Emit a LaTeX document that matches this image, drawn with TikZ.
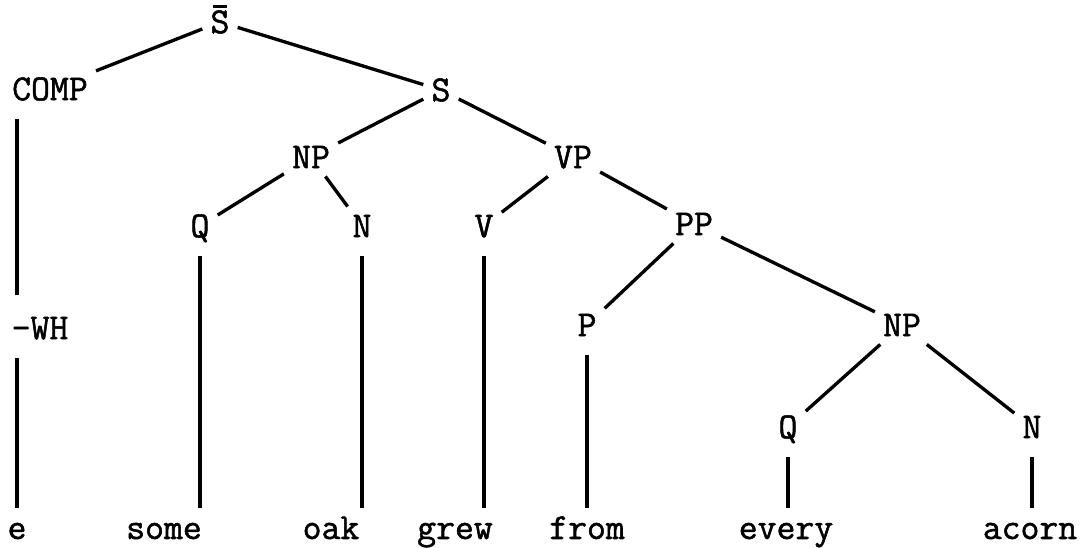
\documentclass[tikz,border=0pt]{standalone}
\usepackage{fontspec}
\newfontfamily\twfont[FakeBold=1.4]{Latin Modern Mono}
\newcommand{\macronS}{\makebox[0pt][l]{\hspace{0.08em}\raisebox{0.70em}{\rule{0.36em}{0.07em}}}S}
\begin{document}
\begin{tikzpicture}[x=0.75pt,y=-0.75pt,
  lab/.style={font=\fontsize{27.5pt}{30pt}\selectfont\twfont, inner sep=6pt, text height=16.8pt, text depth=0pt},
  word/.style={lab, anchor=base},
  edge/.style={line width=2.5pt},
  vline/.style={edge, shorten <=8pt}]
\useasboundingbox (0,0) rectangle (1083,548);
% category labels
\node[lab] (Sb)   at (220,22)  {\macronS};
\node[lab] (COMP) at (50,89)   {COMP};
\node[lab] (S)    at (441,90)  {S};
\node[lab] (NPa)  at (311,157) {NP};
\node[lab] (VP)   at (573,157) {VP};
\node[lab] (Qa)   at (200,226) {Q};
\node[lab] (Na)   at (362,226) {N};
\node[lab] (V)    at (484,226) {V};
\node[lab] (PP)   at (694,224) {PP};
\node[lab] (WH)   at (40,328)  {-WH};
\node[lab] (P)    at (587,325) {P};
\node[lab] (NPb)  at (902,325) {NP};
\node[lab] (Qb)   at (788,427) {Q};
\node[lab] (Nb)   at (1032,427) {N};
% words
\node[word] (e)     at (17,539)   {e};
\node[word] (some)  at (164,539)  {some};
\node[word] (oak)   at (331,539)  {oak};
\node[word] (grew)  at (455,539)  {grew};
\node[word] (from)  at (587,539)  {from};
\node[word] (every) at (786,539)  {every};
\node[word] (acorn) at (1030,539) {acorn};
% branches
\draw[edge] (Sb) -- (COMP);
\draw[edge] (Sb) -- (S);
\draw[edge] (S) -- (NPa);
\draw[edge] (S) -- (VP);
\draw[edge] (NPa) -- (Qa);
\draw[edge] (NPa) -- (Na);
\draw[edge] (VP) -- (V);
\draw[edge] (VP) -- (PP);
\draw[edge] (PP) -- (P);
\draw[edge] (PP) -- (NPb);
\draw[edge] (NPb) -- (Qb);
\draw[edge] (NPb) -- (Nb);
% vertical lines
\draw[vline, shorten >=10pt] (e |- COMP.south) -- (e |- WH.north);
\draw[vline] (e |- WH.south) -- (e.north);
\draw[vline] (Qa.south) -- (Qa.south |- some.north);
\draw[vline] (Na.south) -- (Na.south |- oak.north);
\draw[vline] (V.south) -- (V.south |- grew.north);
\draw[vline] (P.south) -- (P.south |- from.north);
\draw[vline] (Qb.south) -- (Qb.south |- every.north);
\draw[vline] (Nb.south) -- (Nb.south |- acorn.north);
\end{tikzpicture}
\end{document}
